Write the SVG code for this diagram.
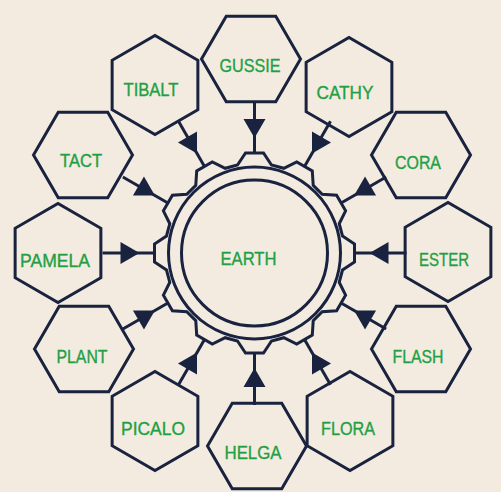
<svg xmlns="http://www.w3.org/2000/svg" xmlns:xlink="http://www.w3.org/1999/xlink" width="501" height="492" viewBox="0 0 501 492">
<style>
.hex{fill:none;stroke:#19223f;stroke-width:3;stroke-linejoin:miter}
.ring{fill:none;stroke:#19223f;stroke-width:3}
.cline{stroke:#19223f;stroke-width:3}
.chead{fill:#19223f;stroke:none}
text{font-family:"Liberation Sans",Arial,sans-serif;font-size:19px;fill:#21a043;stroke:#21a043;stroke-width:0.35;text-anchor:middle}
</style>
<defs>
<polygon id="hexshape" points="42.87,24.75 0,49.5 -42.87,24.75 -42.87,-24.75 0,-49.5 42.87,-24.75"/>
<g id="conn"><line class="cline" x1="100" y1="0" x2="152" y2="0" stroke="#19223f" stroke-width="3"/><polygon class="chead" points="115,0 134,-11 134,11" fill="#19223f"/></g>
</defs>
<rect width="501" height="492" fill="#f3ebdf"/>
<g id="connectors">
<use xlink:href="#conn" transform="translate(254.5,253) rotate(0)"/>
<use xlink:href="#conn" transform="translate(254.5,253) rotate(30)"/>
<use xlink:href="#conn" transform="translate(254.5,253) rotate(60)"/>
<use xlink:href="#conn" transform="translate(254.5,253) rotate(90)"/>
<use xlink:href="#conn" transform="translate(254.5,253) rotate(120)"/>
<use xlink:href="#conn" transform="translate(254.5,253) rotate(150)"/>
<use xlink:href="#conn" transform="translate(254.5,253) rotate(180)"/>
<use xlink:href="#conn" transform="translate(254.5,253) rotate(210)"/>
<use xlink:href="#conn" transform="translate(254.5,253) rotate(240)"/>
<use xlink:href="#conn" transform="translate(254.5,253) rotate(270)"/>
<use xlink:href="#conn" transform="translate(254.5,253) rotate(300)"/>
<use xlink:href="#conn" transform="translate(254.5,253) rotate(330)"/>
</g>
<g id="earth" transform="translate(254.5,253)">
<polygon class="ring" points="88,-17 100,-9 100,9 88,17 84.71,29.28 91.1,42.21 82.1,57.79 67.71,58.72 58.72,67.71 57.79,82.1 42.21,91.1 29.28,84.71 17,88 9,100 -9,100 -17,88 -29.28,84.71 -42.21,91.1 -57.79,82.1 -58.72,67.71 -67.71,58.72 -82.1,57.79 -91.1,42.21 -84.71,29.28 -88,17 -100,9 -100,-9 -88,-17 -84.71,-29.28 -91.1,-42.21 -82.1,-57.79 -67.71,-58.72 -58.72,-67.71 -57.79,-82.1 -42.21,-91.1 -29.28,-84.71 -17,-88 -9,-100 9,-100 17,-88 29.28,-84.71 42.21,-91.1 57.79,-82.1 58.72,-67.71 67.71,-58.72 82.1,-57.79 91.1,-42.21 84.71,-29.28"/>
<circle class="ring" cx="0" cy="0" r="86"/>
<circle class="ring" cx="0" cy="0" r="73"/>
<text x="-6" y="12" textLength="56" lengthAdjust="spacingAndGlyphs">EARTH</text>
</g>
<g id="ester" transform="translate(448,252)"><use xlink:href="#hexshape" class="hex"/><text x="-4" y="14" textLength="50" lengthAdjust="spacingAndGlyphs">ESTER</text></g>
<g id="flash" transform="translate(421,349)"><use xlink:href="#hexshape" class="hex" transform="rotate(30)"/><text x="-3" y="14" textLength="51" lengthAdjust="spacingAndGlyphs">FLASH</text></g>
<g id="flora" transform="translate(350,421)"><use xlink:href="#hexshape" class="hex"/><text x="-2" y="14" textLength="54" lengthAdjust="spacingAndGlyphs">FLORA</text></g>
<g id="helga" transform="translate(257,446)"><use xlink:href="#hexshape" class="hex" transform="rotate(30)"/><text x="-4" y="13" textLength="57" lengthAdjust="spacingAndGlyphs">HELGA</text></g>
<g id="picalo" transform="translate(155,421)"><use xlink:href="#hexshape" class="hex"/><text x="-2" y="14" textLength="64" lengthAdjust="spacingAndGlyphs">PICALO</text></g>
<g id="plant" transform="translate(84,349)"><use xlink:href="#hexshape" class="hex" transform="rotate(30)"/><text x="-2" y="14" textLength="51" lengthAdjust="spacingAndGlyphs">PLANT</text></g>
<g id="pamela" transform="translate(58,253)"><use xlink:href="#hexshape" class="hex"/><text x="-3" y="14" textLength="70" lengthAdjust="spacingAndGlyphs">PAMELA</text></g>
<g id="tact" transform="translate(83,155)"><use xlink:href="#hexshape" class="hex" transform="rotate(30)"/><text x="-2" y="12" textLength="42" lengthAdjust="spacingAndGlyphs">TACT</text></g>
<g id="tibalt" transform="translate(155,85)"><use xlink:href="#hexshape" class="hex"/><text x="-4" y="11" textLength="55" lengthAdjust="spacingAndGlyphs">TIBALT</text></g>
<g id="gussie" transform="translate(251,59)"><use xlink:href="#hexshape" class="hex" transform="rotate(30)"/><text x="-1" y="13" textLength="61" lengthAdjust="spacingAndGlyphs">GUSSIE</text></g>
<g id="cathy" transform="translate(349,87)"><use xlink:href="#hexshape" class="hex"/><text x="-4" y="12" textLength="57" lengthAdjust="spacingAndGlyphs">CATHY</text></g>
<g id="cora" transform="translate(421,155)"><use xlink:href="#hexshape" class="hex" transform="rotate(30)"/><text x="-3" y="14" textLength="46" lengthAdjust="spacingAndGlyphs">CORA</text></g>
</svg>
